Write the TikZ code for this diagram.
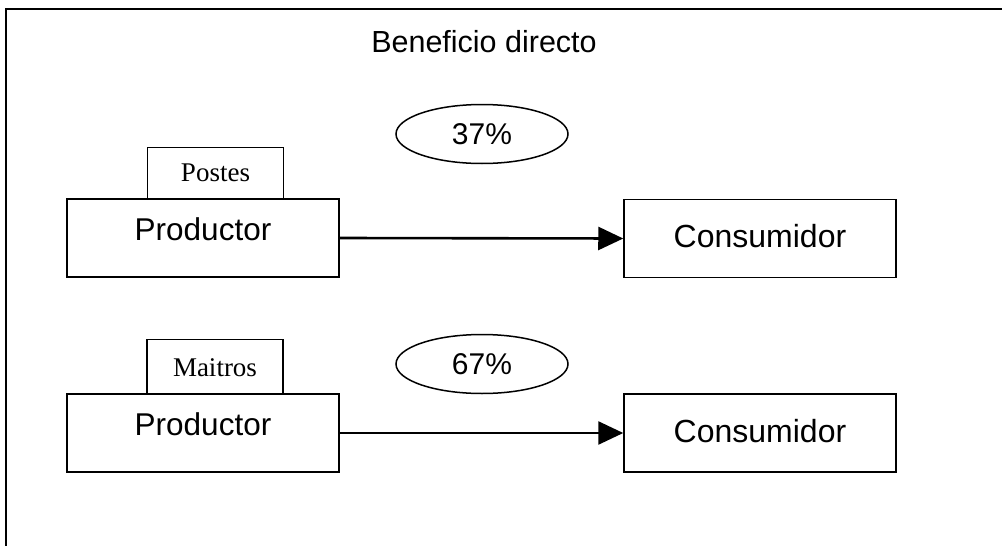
\documentclass[tikz,border=0pt]{standalone}
\usepackage{fontspec}
\setmainfont{Liberation Sans}
\newfontfamily\romana{Liberation Serif}
\usetikzlibrary{arrows.meta,shapes.geometric,positioning}
\tikzset{
  every picture/.style={line width=1.5pt, line join=miter,
    >={Triangle[length=25pt,width=23pt]}},
  % Cajas
  caja/.style={draw, rectangle, inner sep=0pt, minimum width=272pt,
    minimum height=78pt, font=\fontsize{31.5}{33}\selectfont,
    text height=41pt, text depth=37pt},
  etiq/.style={draw, rectangle, inner sep=0pt, minimum width=136pt,
    minimum height=51pt, font=\romana\fontsize{27}{29}\selectfont,
    text height=34pt, text depth=17pt},
  elipse/.style={draw, ellipse, inner sep=0pt, minimum width=172pt,
    minimum height=59pt, font=\fontsize{30}{32}\selectfont},
  flecha/.style={line width=2.6pt, ->},
  marco/.style={line width=1.8pt},
}
\begin{document}
\begin{tikzpicture}[x=1pt, y=-1pt]
  \useasboundingbox (0,0) rectangle (1002,546);
  % Marco
  \draw[marco] (1002,9) -- (6,9) -- (6,546);
  \node[font=\fontsize{30.5}{32}\selectfont] (titulo) at (484,42) {Beneficio directo};
  % primera fila
  \node[elipse] (pct1) at (482,134) {37\%};
  \node[caja] (prod1) at (203,238) {Productor};
  \node[etiq, anchor=south] (postes) at (215.5,199) {Postes};
  \node[caja, font=\fontsize{32}{34}\selectfont, text height=48pt, text depth=30pt] (cons1) at (760,238.5) {Consumidor};
  \draw[flecha] (prod1.east) -- (cons1.west);
  % segunda fila
  \node[elipse] (pct2) at (482,364) {67\%};
  \node[caja] (prod2) at (203,433) {Productor};
  \node[etiq, anchor=south, minimum height=54pt, text height=37pt] (maitros) at (215,394) {Maitros};
  \node[caja, font=\fontsize{32}{34}\selectfont, text height=48pt, text depth=30pt] (cons2) at (760,433) {Consumidor};
  \draw[flecha] (prod2.east) -- (cons2.west);
\end{tikzpicture}
\end{document}
